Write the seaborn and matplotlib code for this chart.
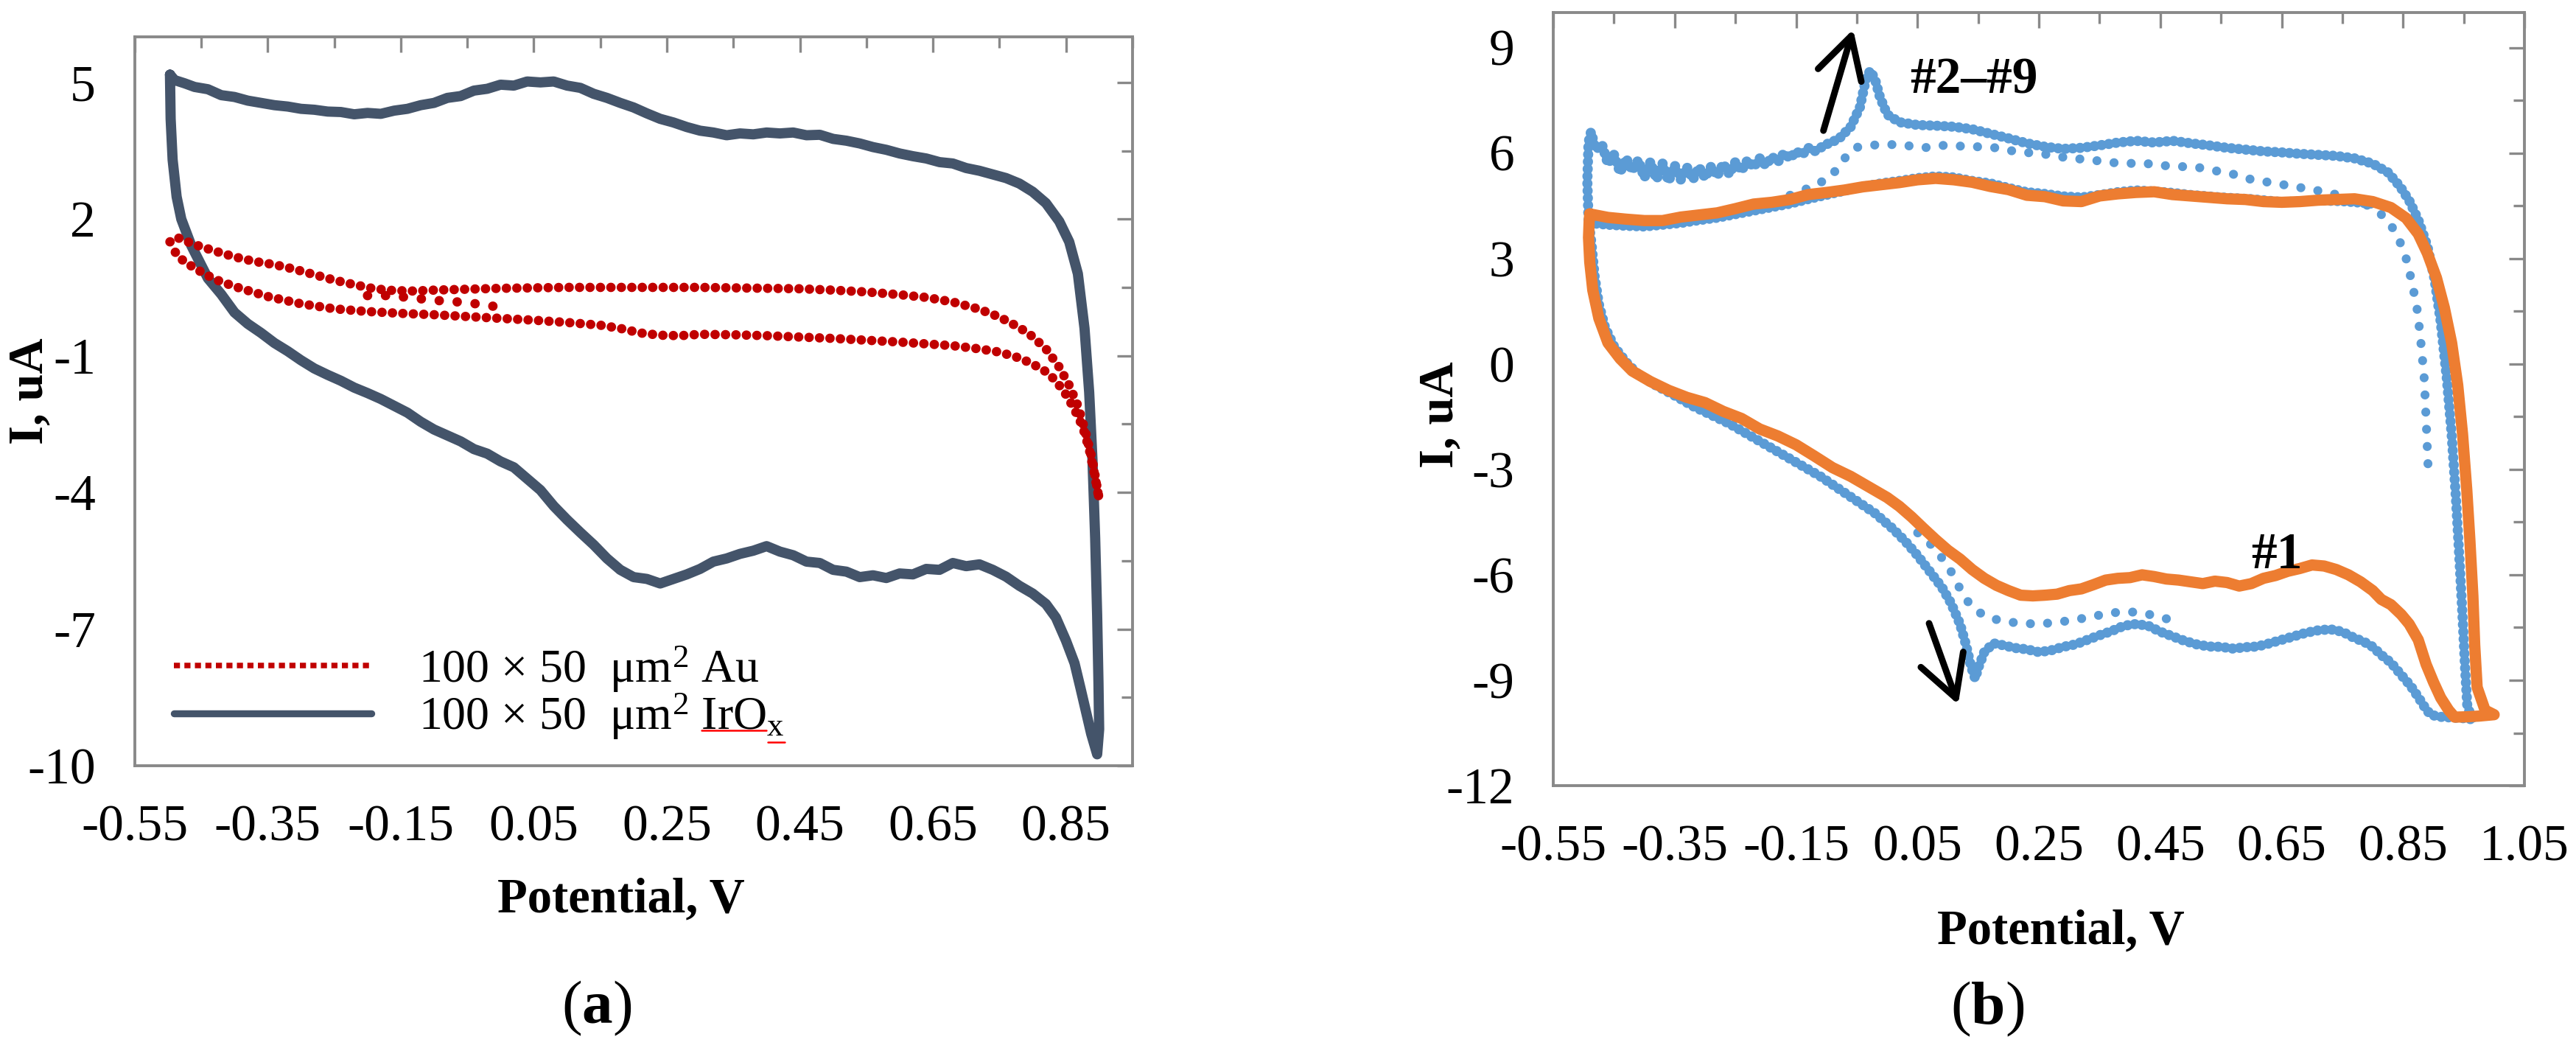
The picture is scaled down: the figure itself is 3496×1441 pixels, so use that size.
import pandas as pd
import matplotlib.pyplot as plt
from matplotlib.lines import Line2D
from matplotlib.ticker import MultipleLocator
import seaborn as sns

# ---------------- panel (a): 100 x 50 um2 sites, Au vs IrOx ----------------
iro_v = [-0.497, -0.49, -0.475, -0.46, -0.44, -0.42, -0.40, -0.38, -0.36, -0.34, -0.32, -0.30,
         -0.28, -0.26, -0.24, -0.22, -0.20, -0.18, -0.16, -0.14, -0.12, -0.10, -0.08, -0.06,
         -0.04, -0.02, 0.0, 0.02, 0.04, 0.06, 0.08, 0.10, 0.12, 0.14, 0.16, 0.18, 0.20, 0.22,
         0.24, 0.26, 0.28, 0.30, 0.32, 0.34, 0.36, 0.38, 0.40, 0.42, 0.44, 0.46, 0.48, 0.50,
         0.52, 0.54, 0.56, 0.58, 0.60, 0.62, 0.64, 0.66, 0.68, 0.70, 0.72, 0.74, 0.76, 0.78,
         0.80, 0.82, 0.84, 0.855, 0.868, 0.878, 0.885, 0.89, 0.894, 0.897, 0.899, 0.90, 0.897,
         0.888, 0.88, 0.872, 0.863, 0.85, 0.835, 0.82, 0.80, 0.78, 0.76, 0.74, 0.72, 0.70,
         0.68, 0.66, 0.64, 0.62, 0.60, 0.58, 0.56, 0.54, 0.52, 0.50, 0.48, 0.46, 0.44, 0.42,
         0.40, 0.38, 0.36, 0.34, 0.32, 0.30, 0.28, 0.26, 0.24, 0.22, 0.20, 0.18, 0.16, 0.14,
         0.12, 0.10, 0.08, 0.06, 0.04, 0.02, 0.0, -0.02, -0.04, -0.06, -0.08, -0.10, -0.12,
         -0.14, -0.16, -0.18, -0.20, -0.22, -0.24, -0.26, -0.28, -0.30, -0.32, -0.34, -0.36,
         -0.38, -0.40, -0.42, -0.44, -0.465, -0.48, -0.487, -0.493, -0.496, -0.497]
iro_i = [5.17, 5.05, 4.98, 4.90, 4.85, 4.72, 4.68, 4.60, 4.55, 4.50, 4.47, 4.42,
         4.40, 4.36, 4.35, 4.30, 4.33, 4.31, 4.38, 4.42, 4.50, 4.55, 4.66, 4.70,
         4.82, 4.86, 4.95, 4.93, 5.02, 5.00, 5.02, 4.93, 4.88, 4.75, 4.66, 4.55, 4.45, 4.32,
         4.20, 4.12, 4.02, 3.94, 3.90, 3.84, 3.88, 3.86, 3.90, 3.88, 3.90, 3.84, 3.85, 3.76,
         3.72, 3.66, 3.58, 3.52, 3.44, 3.38, 3.33, 3.25, 3.22, 3.12, 3.06, 2.98, 2.90, 2.78,
         2.60, 2.35, 1.95, 1.50, 0.80, -0.40, -1.80, -3.30, -5.00, -6.70, -8.20, -9.20, -9.75,
         -9.30, -8.80, -8.30, -7.75, -7.25, -6.75, -6.45, -6.22, -6.05, -5.85, -5.70, -5.58, -5.62,
         -5.55, -5.70, -5.68, -5.80, -5.78, -5.88, -5.82, -5.86, -5.74, -5.70, -5.55, -5.52, -5.38, -5.30,
         -5.18, -5.28, -5.35, -5.45, -5.52, -5.68, -5.80, -5.90, -6.00, -5.90, -5.86, -5.70, -5.45, -5.15,
         -4.88, -4.60, -4.30, -3.95, -3.70, -3.45, -3.32, -3.15, -3.05, -2.88, -2.75, -2.62, -2.45,
         -2.25, -2.10, -1.95, -1.82, -1.70, -1.55, -1.42, -1.28, -1.10, -0.90, -0.72, -0.50,
         -0.30, -0.05, 0.35, 0.70, 1.42, 2.00, 2.49, 3.30, 4.20, 5.17]

au_v = [-0.497, -0.487, -0.46, -0.43, -0.40, -0.37, -0.34, -0.31, -0.28, -0.25, -0.22, -0.19,
        -0.16, -0.13, -0.10, -0.05, 0.0, 0.05, 0.10, 0.15, 0.20, 0.25, 0.30, 0.35, 0.40, 0.45,
        0.50, 0.55, 0.60, 0.64, 0.68, 0.72, 0.75, 0.78, 0.80, 0.82, 0.84, 0.855, 0.868, 0.88,
        0.89, 0.90,
        0.893, 0.885, 0.875, 0.862, 0.85, 0.835, 0.82, 0.80, 0.78, 0.75, 0.72, 0.68, 0.64, 0.60,
        0.55, 0.50, 0.45, 0.40, 0.35, 0.30, 0.27, 0.24, 0.21, 0.18, 0.15, 0.10, 0.05, 0.0,
        -0.05, -0.10, -0.15, -0.20, -0.25, -0.30, -0.35, -0.40, -0.43, -0.46, -0.48, -0.493]
au_i = [1.50, 1.60, 1.44, 1.30, 1.17, 1.07, 1.00, 0.90, 0.78, 0.66, 0.56, 0.47,
        0.43, 0.42, 0.44, 0.46, 0.48, 0.49, 0.50, 0.50, 0.50, 0.50, 0.50, 0.49, 0.48, 0.47,
        0.44, 0.40, 0.34, 0.28, 0.18, 0.02, -0.15, -0.38, -0.58, -0.85, -1.25, -1.65, -2.10,
        -2.70, -3.30, -4.15,
        -3.60, -3.05, -2.55, -2.15, -1.85, -1.55, -1.35, -1.18, -1.05, -0.92, -0.85, -0.78,
        -0.74, -0.70, -0.66, -0.62, -0.59, -0.56, -0.54, -0.53, -0.56, -0.55, -0.50, -0.40,
        -0.33, -0.27, -0.22, -0.18, -0.14, -0.10, -0.07, -0.03, 0.03, 0.14, 0.30, 0.52, 0.68,
        0.92, 1.12, 1.34]

# first points of the Au scan (short spur between the branches)
au_start_v = [-0.20, -0.165, -0.14, -0.114, -0.086, -0.052, -0.003]
au_start_i = [0.32, 0.32, 0.28, 0.24, 0.20, 0.17, 0.07]

# ---------------- panel (b): IrOx, cycle #1 and cycles #2-#9 ----------------
cyc1_v = [-0.49, -0.46, -0.43, -0.40, -0.37, -0.34, -0.31, -0.28, -0.25, -0.22, -0.19, -0.16,
          -0.13, -0.10, -0.07, -0.04, -0.01, 0.02, 0.05, 0.08, 0.11, 0.14, 0.17, 0.20, 0.23,
          0.26, 0.29, 0.32, 0.35, 0.38, 0.41, 0.44, 0.47, 0.50, 0.53, 0.56, 0.59, 0.62, 0.65,
          0.68, 0.71, 0.74, 0.77, 0.80, 0.83, 0.855, 0.875, 0.89, 0.905, 0.918, 0.93, 0.94,
          0.948, 0.955, 0.96, 0.965, 0.968, 0.972, 0.985, 1.0,
          0.975, 0.955, 0.935, 0.925, 0.912, 0.90, 0.888, 0.875, 0.86, 0.847, 0.83, 0.814, 0.80,
          0.78, 0.76, 0.74, 0.72, 0.70, 0.68, 0.66, 0.64, 0.62, 0.60, 0.58, 0.56, 0.54, 0.52,
          0.50, 0.48, 0.46, 0.44, 0.42, 0.40, 0.38, 0.36, 0.34, 0.32, 0.30, 0.28, 0.26, 0.24,
          0.22, 0.20, 0.18, 0.16, 0.14, 0.12, 0.10, 0.08, 0.06, 0.04, 0.02, 0.0, -0.03, -0.06,
          -0.09, -0.12, -0.15, -0.18, -0.21, -0.24, -0.27, -0.30, -0.33, -0.36, -0.39, -0.42,
          -0.44, -0.46, -0.475, -0.485, -0.49, -0.492, -0.491, -0.49]
cyc1_i = [4.27, 4.17, 4.12, 4.08, 4.08, 4.18, 4.24, 4.30, 4.42, 4.55, 4.60, 4.68,
          4.82, 4.88, 4.95, 5.04, 5.10, 5.16, 5.24, 5.28, 5.24, 5.17, 5.05, 4.96, 4.80,
          4.76, 4.64, 4.62, 4.78, 4.84, 4.88, 4.90, 4.82, 4.78, 4.74, 4.70, 4.68, 4.62, 4.60,
          4.62, 4.66, 4.68, 4.70, 4.62, 4.45, 4.15, 3.70, 3.15, 2.45, 1.60, 0.60, -0.60,
          -2.00, -3.60, -5.00, -6.60, -8.00, -9.20, -9.85, -9.98,
          -10.02, -10.04, -10.05, -9.85, -9.50, -9.05, -8.55, -7.85, -7.40, -7.13, -6.85, -6.70,
          -6.45, -6.20, -6.00, -5.85, -5.75, -5.72, -5.82, -5.90, -6.02, -6.10, -6.25, -6.32,
          -6.22, -6.18, -6.25, -6.20, -6.15, -6.12, -6.05, -6.00, -6.08, -6.10, -6.15, -6.28,
          -6.40, -6.45, -6.55, -6.58, -6.60, -6.58, -6.45, -6.30, -6.10, -5.85, -5.55, -5.30,
          -5.00, -4.68, -4.35, -4.05, -3.80, -3.50, -3.20, -2.95, -2.62, -2.30, -2.05, -1.85,
          -1.55, -1.35, -1.10, -0.95, -0.75, -0.50, -0.20, 0.15, 0.60, 1.30, 2.10, 2.90, 3.60,
          4.05, 4.27]

# outer envelope of cycles #2-#9 (later cycles overlap)
cyc9_v = [-0.492, -0.494, -0.492, -0.488, -0.48, -0.47, -0.46, -0.45, -0.44, -0.43, -0.42,
          -0.41, -0.40, -0.39, -0.38, -0.37, -0.36, -0.35, -0.34, -0.33, -0.32, -0.31, -0.30,
          -0.29, -0.28, -0.27, -0.26, -0.25, -0.24, -0.23, -0.22, -0.21, -0.20, -0.19, -0.18,
          -0.17, -0.16, -0.15, -0.14, -0.13, -0.12, -0.10, -0.08, -0.06, -0.045, -0.035, -0.028,
          -0.02, -0.012, 0.0, 0.02, 0.05, 0.08, 0.11, 0.14, 0.17, 0.20, 0.23, 0.26, 0.29, 0.32,
          0.35, 0.38, 0.41, 0.44, 0.47, 0.50, 0.53, 0.56, 0.59, 0.62, 0.65, 0.68, 0.71, 0.74,
          0.77, 0.80, 0.825, 0.845, 0.86, 0.875, 0.89, 0.902, 0.912, 0.922, 0.93, 0.937, 0.943,
          0.948, 0.952, 0.956, 0.968,
          0.95, 0.93, 0.91, 0.895, 0.885, 0.875, 0.862, 0.847, 0.83, 0.814, 0.80, 0.785, 0.77,
          0.75, 0.73, 0.71, 0.69, 0.67, 0.65, 0.63, 0.61, 0.59, 0.57, 0.55, 0.53, 0.51, 0.49,
          0.47, 0.45, 0.43, 0.41, 0.39, 0.37, 0.35, 0.33, 0.31, 0.29, 0.27, 0.25, 0.23, 0.21,
          0.19, 0.175, 0.16, 0.15, 0.145, 0.138, 0.13, 0.12, 0.105, 0.09, 0.07, 0.05, 0.03,
          0.01, -0.02, -0.05, -0.08, -0.11, -0.14, -0.17, -0.20, -0.23, -0.26, -0.29, -0.32,
          -0.35, -0.38, -0.41, -0.43, -0.45, -0.465, -0.475, -0.482, -0.487, -0.492]
cyc9_i = [4.10, 5.20, 6.30, 6.60, 6.10, 6.25, 5.70, 5.95, 5.45, 5.85, 5.50,
          5.80, 5.30, 5.75, 5.25, 5.70, 5.20, 5.65, 5.25, 5.60, 5.25, 5.60, 5.30,
          5.62, 5.35, 5.70, 5.40, 5.75, 5.50, 5.80, 5.60, 5.85, 5.65, 5.90, 5.75,
          6.00, 5.85, 6.05, 5.95, 6.15, 6.05, 6.25, 6.40, 6.75, 7.30, 8.10, 8.35,
          8.10, 7.60, 7.10, 6.88, 6.80, 6.78, 6.75, 6.68, 6.55, 6.42, 6.28, 6.18, 6.12, 6.15,
          6.22, 6.30, 6.35, 6.30, 6.35, 6.28, 6.22, 6.15, 6.10, 6.05, 6.02, 5.98, 5.95, 5.92,
          5.85, 5.70, 5.45, 5.05, 4.65, 4.10, 3.35, 2.40, 1.20, -0.40, -2.00, -3.80, -5.60,
          -7.20, -8.60, -9.80, -10.12,
          -10.08, -10.06, -10.04, -9.98, -9.75, -9.48, -9.15, -8.85, -8.50, -8.28, -8.05, -7.90,
          -7.80, -7.62, -7.55, -7.58, -7.65, -7.75, -7.85, -7.95, -8.04, -8.06, -8.10, -8.05,
          -8.04, -7.98, -7.88, -7.75, -7.62, -7.45, -7.40, -7.45, -7.60, -7.72, -7.85, -7.98,
          -8.05, -8.15, -8.20, -8.12, -8.08, -8.00, -7.95, -8.20, -8.65, -8.95, -8.60, -8.00,
          -7.40, -6.80, -6.35, -5.90, -5.45, -5.05, -4.70, -4.25, -3.90, -3.55, -3.20, -2.90,
          -2.60, -2.30, -2.00, -1.70, -1.45, -1.20, -0.90, -0.62, -0.30, 0.05, 0.50, 1.05,
          1.70, 2.50, 3.40, 4.10]

# cycle #2 (anodic branch, runs close to cycle #1)
cyc2_v = [-0.49, -0.46, -0.43, -0.40, -0.37, -0.34, -0.31, -0.28, -0.25, -0.22, -0.19, -0.16,
          -0.13, -0.10, -0.07, -0.04, -0.01, 0.02, 0.05, 0.08, 0.11, 0.14, 0.17, 0.20, 0.23,
          0.26, 0.29, 0.32, 0.35, 0.38, 0.41, 0.44, 0.47, 0.50, 0.55, 0.60, 0.65, 0.70, 0.75,
          0.80]
cyc2_i = [4.00, 3.95, 3.92, 3.90, 3.95, 4.00, 4.08, 4.15, 4.25, 4.35, 4.45, 4.55,
          4.68, 4.80, 4.92, 5.05, 5.15, 5.22, 5.30, 5.35, 5.32, 5.22, 5.15, 5.02, 4.90,
          4.85, 4.78, 4.75, 4.82, 4.90, 4.95, 4.92, 4.88, 4.82, 4.75, 4.70, 4.62, 4.65, 4.62,
          4.55]

# intermediate cycles (sparse points)
mid_up_v = [-0.16, -0.13, -0.115, -0.10, -0.085, -0.07, -0.055, -0.03, 0.0, 0.03, 0.06, 0.09,
            0.12, 0.15, 0.18, 0.21, 0.24, 0.27, 0.30, 0.33, 0.36, 0.39, 0.42, 0.45, 0.48, 0.51,
            0.54, 0.57, 0.60, 0.66, 0.72, 0.76, 0.80, 0.82, 0.84, 0.855, 0.865, 0.874, 0.88,
            0.885, 0.888, 0.891]
mid_up_i = [4.80, 5.00, 5.15, 5.22, 5.50, 5.85, 6.15, 6.22, 6.25, 6.22, 6.15, 6.22,
            6.20, 6.18, 6.15, 6.05, 6.00, 5.95, 5.85, 5.82, 5.75, 5.70, 5.72, 5.65, 5.62, 5.60,
            5.50, 5.40, 5.25, 5.08, 4.90, 4.74, 4.45, 4.17, 3.70, 3.00, 2.30, 1.47, 0.50,
            -0.45, -1.60, -2.86]
mid_lo_v = [0.46, 0.43, 0.40, 0.37, 0.34, 0.31, 0.28, 0.25, 0.22, 0.19, 0.165, 0.145, 0.13,
            0.12, 0.11, 0.10, 0.085, 0.07, 0.05, 0.03]
mid_lo_i = [-7.25, -7.12, -7.05, -7.08, -7.18, -7.28, -7.35, -7.40, -7.38, -7.32, -7.20, -7.00,
            -6.70, -6.40, -6.05, -5.75, -5.40, -5.10, -4.80, -4.55]

# axes, ticks and labels
xticks_a = [-0.55, -0.35, -0.15, 0.05, 0.25, 0.45, 0.65, 0.85]
yticks_a = [5, 2, -1, -4, -7, -10]
xticks_b = [-0.55, -0.35, -0.15, 0.05, 0.25, 0.45, 0.65, 0.85, 1.05]
yticks_b = [9, 6, 3, 0, -3, -6, -9, -12]
legend_a = ["100 × 50  μm$^2$ Au", "100 × 50  μm$^2$ IrO$_\\mathrm{x}$"]

RED = "#C00000"
SLATE = "#44546A"
BLUE = "#5B9BD5"
ORANGE = "#ED7D31"
AXGRAY = "#898989"

sns.set_theme(style="white")
plt.rcParams["font.family"] = ["Liberation Serif", "DejaVu Serif"]
plt.rcParams["mathtext.fontset"] = "custom"
plt.rcParams["mathtext.rm"] = "Liberation Serif"
plt.rcParams["mathtext.it"] = "Liberation Serif:italic"
plt.rcParams["mathtext.bf"] = "Liberation Serif:bold"
plt.rcParams["text.color"] = "black"
plt.rcParams["axes.labelcolor"] = "black"

fig = plt.figure(figsize=(17.48, 7.205), dpi=200)
ax_a = fig.add_axes([0.0523, 0.2790, 0.3873, 0.6863])
ax_b = fig.add_axes([0.6030, 0.2602, 0.3770, 0.7280])


def trace(ax, v, i, color, lw, dash=None, z=2):
    df = pd.DataFrame({"V": v, "I": i})
    kw = dict(data=df, x="V", y="I", sort=False, estimator=None, color=color,
              linewidth=lw, ax=ax, zorder=z)
    if dash is not None:
        kw.update(linestyle=(0, dash), dash_capstyle="round")
    else:
        kw.update(solid_capstyle="round", solid_joinstyle="round")
    sns.lineplot(**kw)


# (a)
trace(ax_a, iro_v, iro_i, SLATE, 5.0, z=2)
trace(ax_a, au_v, au_i, RED, 4.6, dash=(0.01, 1.1), z=3)
trace(ax_a, au_start_v, au_start_i, RED, 4.6, dash=(0.01, 1.9), z=3)

# (b)
trace(ax_b, cyc2_v, cyc2_i, BLUE, 4.6, dash=(0.01, 0.7), z=2)
trace(ax_b, cyc9_v, cyc9_i, BLUE, 5.0, dash=(0.01, 0.7), z=2)
trace(ax_b, mid_up_v, mid_up_i, BLUE, 4.4, dash=(0.01, 1.9), z=2)
trace(ax_b, mid_lo_v, mid_lo_i, BLUE, 4.4, dash=(0.01, 1.9), z=2)
trace(ax_b, cyc1_v, cyc1_i, ORANGE, 5.5, z=3)


def style_axes(ax, xticks, yticks, xlim, ylim, ylab_pos, xlab_pos):
    ax.set_xlim(*xlim)
    ax.set_ylim(*ylim)
    ax.set_xticks(xticks, [f"{t:.2f}" for t in xticks])
    ax.set_yticks(yticks, [str(t) for t in yticks])
    ax.xaxis.set_minor_locator(MultipleLocator(0.1, offset=0.05))
    ax.yaxis.set_minor_locator(MultipleLocator(1.5, offset=yticks[-1] % 1.5))
    ax.tick_params(which="both", direction="in", top=True, right=True, color=AXGRAY,
                   width=1.2, labelcolor="black", labelsize=25)
    ax.tick_params(which="major", length=7.5)
    ax.tick_params(which="minor", length=5.4)
    ax.tick_params(axis="x", pad=19)
    ax.tick_params(axis="y", pad=19)
    for sp in ax.spines.values():
        sp.set_color(AXGRAY)
        sp.set_linewidth(1.4)
    ax.set_xlabel("Potential, V", fontsize=24, fontweight="bold")
    ax.set_ylabel("I, uA", fontsize=24, fontweight="bold")
    ax.yaxis.set_label_coords(*ylab_pos)
    ax.xaxis.set_label_coords(*xlab_pos)
    ax.yaxis.label.set_va("center")
    ax.xaxis.label.set_va("center")


style_axes(ax_a, xticks_a, yticks_a, (-0.55, 0.95), (-10, 6), (-0.1045, 0.514), (0.4875, -0.184))
style_axes(ax_b, xticks_b, yticks_b, (-0.55, 1.05), (-12, 10), (-0.1165, 0.4795), (0.5228, -0.189))

# legend of (a)
handles = [Line2D([], [], color=RED, lw=2.7, linestyle=(0, (1.1, 0.8)), dash_capstyle="butt"),
           Line2D([], [], color=SLATE, lw=3.4)]
leg = ax_a.legend(handles, legend_a, loc="lower left", bbox_to_anchor=(0.039, 0.033),
                  frameon=False, fontsize=23, handlelength=4.2, handletextpad=1.0,
                  labelspacing=-0.05, borderpad=0, borderaxespad=0)

# annotations of (b)
arrow_up = ((-0.105, 6.64), (-0.056, 9.52))
arrow_down = ((0.069, -7.38), (0.117, -9.69))
for tail, tip in (arrow_up, arrow_down):
    ax_b.annotate("", xy=tip, xytext=tail,
                  arrowprops=dict(arrowstyle="->,head_length=0.4,head_width=0.22",
                                  lw=3.2, color="black", mutation_scale=50,
                                  shrinkA=0, shrinkB=0))
ax_b.text(0.0376, 8.05, "#2–#9", fontsize=25, fontweight="bold", ha="left", va="center")
ax_b.text(0.60, -5.46, "#1", fontsize=25, fontweight="bold", ha="left", va="center")

fig.text(0.2317, 0.0507, r"($\mathbf{a}$)", fontsize=30, ha="center", va="center")
fig.text(0.7715, 0.0500, r"($\mathbf{b}$)", fontsize=30, ha="center", va="center")

# red spell-check squiggle under "IrOx" in the legend (as in the source figure)
fig.canvas.draw()
bb = leg.get_texts()[1].get_window_extent(fig.canvas.get_renderer())
inv = fig.transFigure.inverted()
base = bb.y0 + 0.22 * bb.height
for f0, f1, dy in ((0.773, 0.951, 0.0), (0.955, 1.0, -16.0)):
    p0 = inv.transform((bb.x0 + f0 * bb.width, base + dy))
    p1 = inv.transform((bb.x0 + f1 * bb.width, base + dy))
    fig.add_artist(Line2D([p0[0], p1[0]], [p0[1], p1[1]], color="red", lw=0.9))

fig.savefig("out.png", dpi=200, facecolor="white")
